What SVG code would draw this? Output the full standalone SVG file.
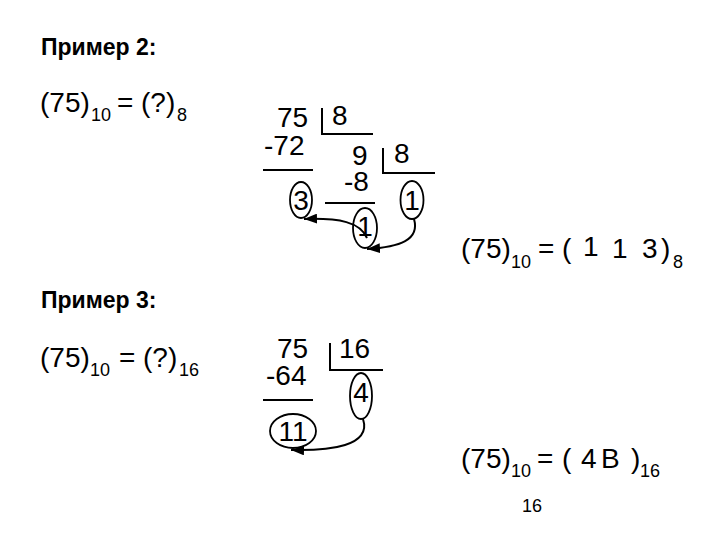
<svg xmlns="http://www.w3.org/2000/svg" width="720" height="540" viewBox="0 0 720 540">
<style>
text{font-family:"Liberation Sans",Arial,sans-serif;fill:#000}
.h{font-size:23px;font-weight:bold}
.m{font-size:28px}
.s{font-size:18px}
.ln{stroke:#000;stroke-width:2;fill:none}
.el{stroke:#000;stroke-width:1.8;fill:none}
.ar{stroke:#000;stroke-width:2;fill:none;marker-end:url(#ah)}
</style>
<defs>
<marker id="ah" viewBox="0 0 13 10" refX="13" refY="5" markerWidth="13" markerHeight="10" markerUnits="userSpaceOnUse" orient="auto"><path d="M0,0 L13,5 L0,10 z" fill="#000"/></marker>
</defs>
<g id="title2"><text class="h" x="41" y="55">Пример 2:</text></g>
<g id="eq2">
<text class="m" x="40" y="112">(75)</text><text class="s" x="91" y="121">10</text>
<text class="m" x="117" y="112">=</text><text class="m" x="141" y="112">(?)</text><text class="s" x="177" y="121">8</text>
</g>
<g id="div1">
<text class="m" x="277" y="127">75</text>
<path class="ln" d="M322,108 V134 H373"/>
<text class="m" x="332" y="125">8</text>
<text class="m" x="264" y="155">-72</text>
<path class="ln" d="M263,170 H313"/>
<text class="m" x="352" y="165">9</text>
<path class="ln" d="M383,148 V173 H435"/>
<text class="m" x="394" y="163">8</text>
<text class="m" x="344" y="191">-8</text>
<path class="ln" d="M325,203 H375"/>
</g>
<g id="r3"><ellipse class="el" cx="301" cy="200" rx="11" ry="18"/><text class="m" x="301" y="210" text-anchor="middle">3</text></g>
<g id="r1a"><ellipse class="el" cx="412" cy="200" rx="11.5" ry="19"/><text class="m" x="412" y="210" text-anchor="middle">1</text></g>
<g id="r1b"><ellipse class="el" cx="365" cy="228" rx="12" ry="20"/><text class="m" x="365" y="236" text-anchor="middle">1</text></g>
<g id="res2">
<text class="m" x="461" y="258">(75)</text><text class="s" x="511" y="268">10</text>
<text class="m" x="538" y="258">=</text><text class="m" x="562" y="258">(</text>
<text class="m" x="583" y="256">1</text><text class="m" x="612" y="258">1</text><text class="m" x="642" y="258">3</text>
<text class="m" x="661" y="258">)</text><text class="s" x="673" y="268">8</text>
</g>
<g id="title3"><text class="h" x="41" y="308">Пример 3:</text></g>
<g id="eq3">
<text class="m" x="40" y="367">(75)</text><text class="s" x="90" y="376">10</text>
<text class="m" x="119" y="367">=</text><text class="m" x="143" y="367">(?)</text><text class="s" x="179" y="376">16</text>
</g>
<g id="div2">
<text class="m" x="277" y="358">75</text>
<path class="ln" d="M330,343 V370 H383"/>
<text class="m" x="339" y="358">16</text>
<text class="m" x="266" y="385">-64</text>
<path class="ln" d="M263,400 H313"/>
</g>
<g id="r4"><ellipse class="el" cx="361" cy="396" rx="11" ry="23"/><text class="m" x="361" y="402" text-anchor="middle">4</text></g>
<g id="r11"><ellipse class="el" cx="293" cy="431" rx="23" ry="17"/><text class="m" x="293" y="441" text-anchor="middle">11</text></g>
<g id="res3">
<text class="m" x="461" y="468">(75)</text><text class="s" x="511" y="477">10</text>
<text class="m" x="537" y="468">=</text><text class="m" x="562" y="468">(</text>
<text class="m" x="581" y="468">4</text><text class="m" x="601" y="468">B</text>
<text class="m" x="631" y="468">)</text><text class="s" x="640" y="477">16</text>
</g>
<g id="page"><text class="s" x="522" y="512">16</text></g>
<g id="connectors">
<path class="ar" d="M367,238 C360,222 340,218 304,219"/>
<path class="ar" d="M414,219 C420,240 400,247 367,249"/>
<path class="ar" d="M363,419 C372,446 330,451 291,450"/>
</g>
</svg>
